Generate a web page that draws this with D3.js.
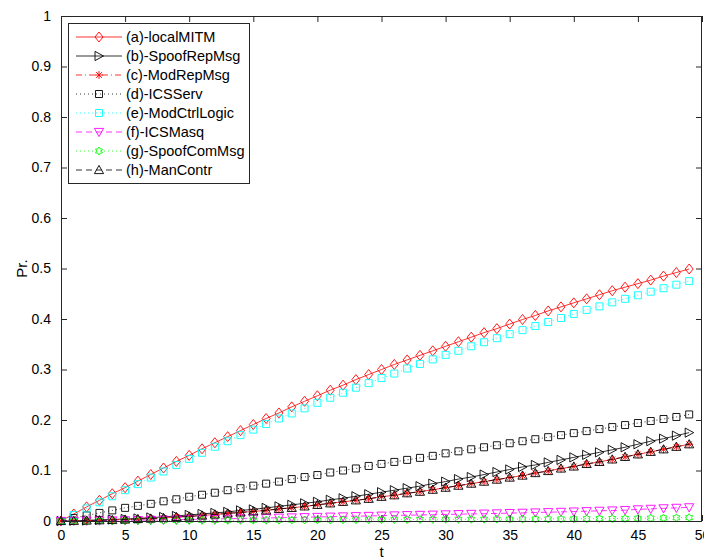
<!DOCTYPE html>
<html>
<head>
<meta charset="utf-8">
<script src="https://cdn.jsdelivr.net/npm/d3@7"></script>
<style>
  html, body { margin: 0; padding: 0; background: #fff; }
  svg { display: block; }
  text { font-family: "Liberation Sans", Arial, Helvetica, sans-serif; fill: #000; }
</style>
</head>
<body>
<svg id="chart" width="704" height="559"></svg>
<script>
// ---------------- data ----------------
const tValues = [0,1,2,3,4,5,6,7,8,9,10,11,12,13,14,15,16,17,18,19,20,21,22,23,24,25,26,27,28,29,30,31,32,33,34,35,36,37,38,39,40,41,42,43,44,45,46,47,48,49];

const localMITM = [0,0.014,0.028,0.041,0.054,0.066,0.079,0.092,0.105,0.118,0.130,0.143,0.155,0.167,0.179,0.191,0.203,0.214,0.226,0.237,0.248,0.259,0.269,0.280,0.290,0.300,0.310,0.319,0.328,0.337,0.346,0.355,0.364,0.373,0.381,0.390,0.399,0.407,0.416,0.424,0.432,0.440,0.448,0.456,0.463,0.470,0.477,0.485,0.492,0.499];
const spoofRepMsg = [0,0.0005,0.001,0.002,0.003,0.004,0.005,0.007,0.008,0.010,0.012,0.014,0.016,0.018,0.021,0.023,0.026,0.029,0.032,0.035,0.038,0.042,0.045,0.049,0.053,0.057,0.061,0.065,0.069,0.074,0.078,0.083,0.087,0.092,0.097,0.102,0.107,0.111,0.116,0.121,0.126,0.131,0.136,0.141,0.146,0.152,0.158,0.163,0.169,0.175];
const modRepMsg = [0,0.0004,0.001,0.0015,0.002,0.003,0.004,0.005,0.006,0.008,0.009,0.011,0.013,0.015,0.017,0.019,0.021,0.024,0.026,0.029,0.032,0.035,0.038,0.041,0.044,0.048,0.051,0.055,0.058,0.062,0.066,0.070,0.074,0.078,0.082,0.086,0.090,0.095,0.099,0.104,0.108,0.113,0.117,0.122,0.127,0.132,0.137,0.142,0.147,0.152];
const icsServ = [0,0.006,0.011,0.016,0.021,0.026,0.030,0.034,0.039,0.043,0.048,0.052,0.056,0.061,0.065,0.070,0.074,0.078,0.083,0.087,0.091,0.096,0.100,0.104,0.109,0.113,0.117,0.121,0.125,0.129,0.134,0.138,0.142,0.146,0.150,0.154,0.158,0.162,0.166,0.170,0.174,0.178,0.182,0.186,0.190,0.194,0.198,0.202,0.206,0.211];
const modCtrlLogic = [0,0.012,0.025,0.037,0.049,0.061,0.073,0.086,0.098,0.111,0.123,0.135,0.147,0.158,0.170,0.181,0.192,0.203,0.213,0.223,0.234,0.244,0.254,0.264,0.273,0.283,0.292,0.302,0.311,0.320,0.329,0.337,0.346,0.354,0.362,0.370,0.378,0.386,0.394,0.402,0.410,0.418,0.425,0.433,0.440,0.447,0.454,0.461,0.468,0.475];
const icsMasq = [0,0.0002,0.0005,0.0008,0.001,0.0013,0.0016,0.002,0.0024,0.0028,0.0032,0.0036,0.004,0.0045,0.005,0.0055,0.006,0.0065,0.007,0.0075,0.008,0.0085,0.009,0.0095,0.010,0.0105,0.011,0.0115,0.012,0.0125,0.013,0.0135,0.014,0.0145,0.015,0.0156,0.0162,0.0168,0.0174,0.018,0.0187,0.0194,0.0201,0.0208,0.0215,0.023,0.024,0.025,0.026,0.027];
const spoofComMsg = [0,0.0001,0.0002,0.0003,0.0004,0.0005,0.0006,0.0007,0.0008,0.0009,0.001,0.0011,0.0012,0.0013,0.0014,0.0015,0.0016,0.0017,0.0018,0.002,0.0021,0.0022,0.0023,0.0024,0.0025,0.0026,0.0027,0.0028,0.003,0.0031,0.0032,0.0033,0.0034,0.0035,0.0036,0.0037,0.0038,0.0039,0.004,0.0041,0.0043,0.0045,0.0047,0.0049,0.0051,0.0054,0.0057,0.006,0.0064,0.0068];
const manContr = [0,0.0004,0.001,0.0015,0.002,0.003,0.004,0.005,0.006,0.008,0.009,0.011,0.013,0.015,0.017,0.019,0.021,0.024,0.026,0.029,0.032,0.035,0.038,0.041,0.044,0.048,0.051,0.055,0.058,0.062,0.066,0.070,0.074,0.078,0.082,0.086,0.090,0.095,0.099,0.104,0.108,0.113,0.117,0.122,0.127,0.132,0.137,0.142,0.147,0.152];

const seriesNames = ["(a)-localMITM","(b)-SpoofRepMsg","(c)-ModRepMsg","(d)-ICSServ","(e)-ModCtrlLogic","(f)-ICSMasq","(g)-SpoofComMsg","(h)-ManContr"];
const xTickValues = [0,5,10,15,20,25,30,35,40,45,50];
const yTickValues = [0,0.1,0.2,0.3,0.4,0.5,0.6,0.7,0.8,0.9,1];
const xLabel = "t";
const yLabel = "Pr.";

// ---------------- styles ----------------
const seriesValues = [localMITM, spoofRepMsg, modRepMsg, icsServ, modCtrlLogic, icsMasq, spoofComMsg, manContr];
const styles = [
  {color:"#ff0000", dash:null,        marker:"diamond"},
  {color:"#000000", dash:null,        marker:"triRight"},
  {color:"#ff0000", dash:"6,3,1,3",   marker:"asterisk"},
  {color:"#000000", dash:"1,3",       marker:"square"},
  {color:"#00ffff", dash:"1,3",       marker:"square"},
  {color:"#ff00ff", dash:"6,4",       marker:"triDown"},
  {color:"#00ff00", dash:"1,3",       marker:"hexagram"},
  {color:"#000000", dash:"6,4",       marker:"triUp"}
];

function markerPath(type) {
  switch (type) {
    case "diamond": return "M0,-5L4,0L0,5L-4,0Z";
    case "square": return "M-3.5,-3.5H3.5V3.5H-3.5Z";
    case "triRight": return "M-4,-4.6L4.5,0L-4,4.6Z";
    case "triDown": return "M-4.6,-3.6L4.6,-3.6L0,4.6Z";
    case "triUp": return "M-4.6,3.6L4.6,3.6L0,-4.6Z";
    case "asterisk": return "M-4,0H4M0,-4V4M-2.9,-2.9L2.9,2.9M-2.9,2.9L2.9,-2.9";
    case "hexagram": {
      const pts = [];
      for (let i = 0; i < 12; i++) {
        const r = (i % 2 === 0) ? 4 : 2.4;
        const ang = -Math.PI / 2 + i * Math.PI / 6;
        pts.push([r * Math.cos(ang), r * Math.sin(ang)]);
      }
      return "M" + pts.map(p => p[0].toFixed(2) + "," + p[1].toFixed(2)).join("L") + "Z";
    }
  }
  return "";
}

// ---------------- layout ----------------
const svg = d3.select("#chart");
const pLeft = 61, pRight = 702, pTop = 16, pBottom = 521;
const x = d3.scaleLinear().domain([0, 50]).range([pLeft, pRight]);
const y = d3.scaleLinear().domain([0, 1]).range([pBottom, pTop]);

// data layer
const plot = svg.append("g");
const line = d3.line().x((d, i) => x(tValues[i])).y(d => y(d));

seriesValues.forEach((vals, si) => {
  const st = styles[si];
  const g = plot.append("g");
  g.append("path")
    .attr("d", line(vals))
    .attr("fill", "none")
    .attr("stroke", st.color)
    .attr("stroke-width", 0.8)
    .attr("stroke-dasharray", st.dash);
  g.selectAll("path.m").data(vals).enter().append("path")
    .attr("class", "m")
    .attr("d", markerPath(st.marker))
    .attr("transform", (d, i) => `translate(${x(tValues[i])},${y(d)})`)
    .attr("fill", "none")
    .attr("stroke", st.color)
    .attr("stroke-width", 0.9);
});

// axes (MATLAB-style box with inward ticks)
const tickLen = 6;
const axisColor = "#262626";
const xAxisB = d3.axisBottom(x).tickValues(xTickValues).tickSize(-tickLen).tickPadding(9).tickFormat(d3.format("d"));
const xAxisT = d3.axisTop(x).tickValues(xTickValues).tickSize(-tickLen).tickFormat("");
const yAxisL = d3.axisLeft(y).tickValues(yTickValues).tickSize(-tickLen).tickPadding(10).tickFormat(d => String(+d.toFixed(1)));
const yAxisR = d3.axisRight(y).tickValues(yTickValues).tickSize(-tickLen).tickFormat("");

function styleAxis(g) {
  g.selectAll("path.domain").attr("stroke", axisColor).attr("stroke-width", 1);
  g.selectAll(".tick line").attr("stroke", axisColor).attr("stroke-width", 1);
  g.selectAll(".tick text").style("font-family", "'Liberation Sans', Arial, sans-serif").style("font-size", "14px").attr("fill", "#000");
}
svg.append("g").attr("transform", `translate(0,${pBottom})`).call(xAxisB).call(styleAxis)
  .call(g => g.select(".domain").attr("d", `M${pLeft},0.5H${pRight}`));
svg.append("g").attr("transform", `translate(0,${pTop})`).call(xAxisT).call(styleAxis)
  .call(g => g.select(".domain").attr("d", `M${pLeft},0.5H${pRight}`));
svg.append("g").attr("transform", `translate(${pLeft},0)`).call(yAxisL).call(styleAxis)
  .call(g => g.select(".domain").attr("d", `M0.5,${pTop}V${pBottom}`));
svg.append("g").attr("transform", `translate(${pRight},0)`).call(yAxisR).call(styleAxis)
  .call(g => g.select(".domain").attr("d", `M-0.5,${pTop}V${pBottom}`));

// axis labels
svg.append("text").attr("x", x(25)).attr("y", 557).attr("text-anchor", "middle")
  .style("font-size", "15px").text(xLabel);
svg.append("text").attr("transform", `translate(27,${y(0.5)}) rotate(-90)`).attr("text-anchor", "middle")
  .style("font-size", "15px").text(yLabel);

// legend
const lg = svg.append("g");
const lgX = 68.5, lgY = 23.5, lgW = 181, lgH = 160;
lg.append("rect").attr("x", lgX).attr("y", lgY).attr("width", lgW).attr("height", lgH)
  .attr("fill", "#fff").attr("stroke", axisColor).attr("stroke-width", 1);
const rowY = d3.scaleLinear().domain([0, 7]).range([37, 170]);
seriesNames.forEach((name, i) => {
  const st = styles[i];
  const yy = rowY(i);
  lg.append("line").attr("x1", 76).attr("x2", 122).attr("y1", yy).attr("y2", yy)
    .attr("stroke", st.color).attr("stroke-width", 0.8).attr("stroke-dasharray", st.dash);
  lg.append("path").attr("d", markerPath(st.marker)).attr("transform", `translate(99,${yy})`)
    .attr("fill", "none").attr("stroke", st.color).attr("stroke-width", 0.9);
  lg.append("text").attr("x", 126).attr("y", yy + 5).style("font-size", "14.5px").text(name);
});
</script>
</body>
</html>
